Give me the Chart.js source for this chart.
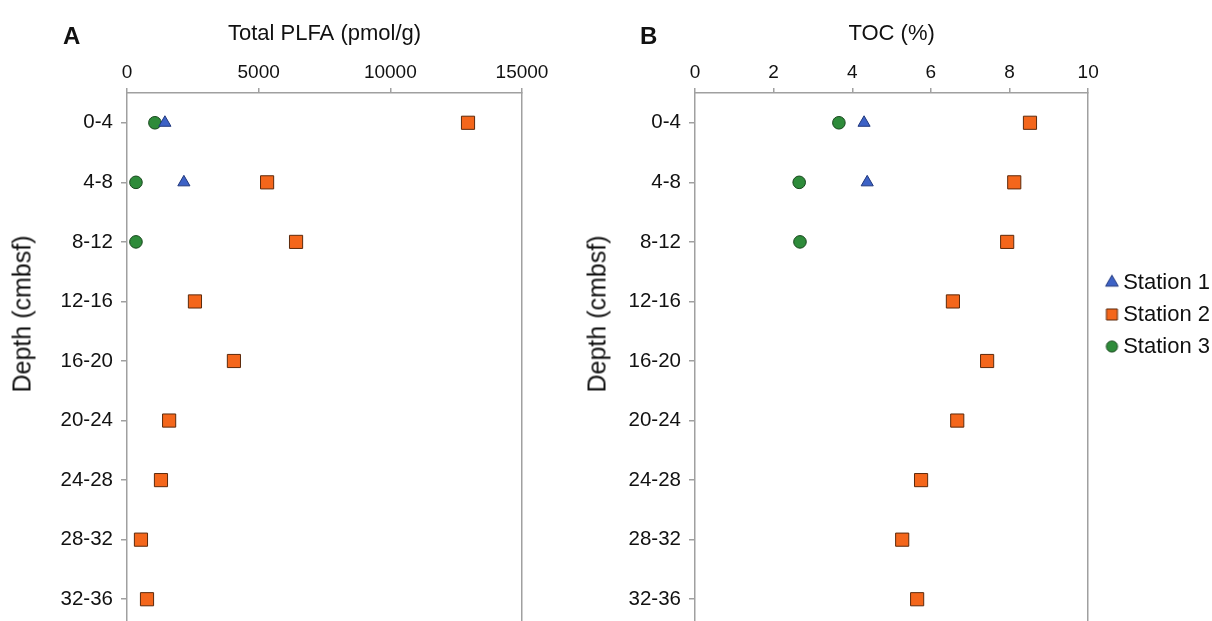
<!DOCTYPE html>
<html lang="en">
  <head>
    <meta charset="utf-8" />
    <title>PLFA and TOC by depth</title>
    <style>
      html, body { margin: 0; padding: 0; background: #fff; overflow: hidden; }
      body { width: 1212px; height: 621px; position: relative; font-family: "Liberation Sans", Arial, sans-serif; color: #111; }
      .panel { position: absolute; top: 0; }
      .letter { position: absolute; top: 24px; font-weight: bold; font-size: 24px; line-height: 24px; }
      .ytitle { position: absolute; font-size: 25px; white-space: nowrap; transform: translate(-50%, -50%) rotate(-90deg); }
    </style>
  </head>
  <body>
    <div class="panel" style="left: 0; width: 560px; height: 640px">
      <canvas id="plfa" width="560" height="640"></canvas>
    </div>
    <div class="panel" style="left: 560px; width: 652px; height: 640px">
      <canvas id="toc" width="652" height="640"></canvas>
    </div>
    <div class="letter" style="left: 63px">A</div>
    <div class="letter" style="left: 640px">B</div>
    <div class="ytitle" style="left: 22px; top: 314px">Depth (cmbsf)</div>
    <div class="ytitle" style="left: 597px; top: 314px">Depth (cmbsf)</div>

    <script src="https://cdn.jsdelivr.net/npm/chart.js"></script>

    <script>
      const depths = ["0-4", "4-8", "8-12", "12-16", "16-20", "20-24", "24-28", "28-32", "32-36"];

      // Total PLFA (pmol/g)
      const plfaStation1 = [1440, 2160, null, null, null, null, null, null, null];
      const plfaStation2 = [12950, 5320, 6420, 2580, 4060, 1600, 1290, 530, 760];
      const plfaStation3 = [1060, 340, 340, null, null, null, null, null, null];
      const plfaTicks = [0, 5000, 10000, 15000];

      // TOC (%)
      const tocStation1 = [4.3, 4.38, null, null, null, null, null, null, null];
      const tocStation2 = [8.52, 8.12, 7.94, 6.56, 7.43, 6.67, 5.75, 5.27, 5.65];
      const tocStation3 = [3.66, 2.65, 2.67, null, null, null, null, null, null];
      const tocTicks = [0, 2, 4, 6, 8, 10];

      const stationNames = ["Station 1", "Station 2", "Station 3"];

      const markers = [
        { pointStyle: "triangle", radius: 7, legendRadius: 7.3, fill: "#3d62c6", edge: "#22397e" },
        { pointStyle: "rect", radius: 9.3, legendRadius: 7.8, fill: "#f4661b", edge: "#5c2a0c" },
        { pointStyle: "circle", radius: 6.3, legendRadius: 5.6, fill: "#2e8b3a", edge: "#17461c" },
      ];

      const axisGray = "#a0a0a0";
      const textColor = "#111";
      Chart.defaults.font.family = '"Liberation Sans", Arial, sans-serif';

      function toPoints(values) {
        return values
          .map((v, i) => (v == null ? null : { x: v, y: i }))
          .filter((p) => p !== null);
      }

      // small legend glyphs, drawn with Chart.js' own point helper
      function legendIcon(m) {
        const size = Math.ceil(m.legendRadius * 2 + 3);
        const c = document.createElement("canvas");
        c.width = size;
        c.height = size;
        const g = c.getContext("2d");
        g.fillStyle = m.fill;
        g.strokeStyle = m.edge;
        g.lineWidth = 1;
        Chart.helpers.drawPoint(g, { pointStyle: m.pointStyle, radius: m.legendRadius, borderWidth: 1 }, size / 2, size / 2);
        return c;
      }
      const legendIcons = markers.map(legendIcon);

      function makeChart(id, xTitle, xTicks, series, opts) {
        const datasets = series.map((values, k) => ({
          label: stationNames[k],
          data: toPoints(values),
          pointStyle: markers[k].pointStyle,
          pointRadius: markers[k].radius,
          pointHoverRadius: markers[k].radius,
          backgroundColor: markers[k].fill,
          borderColor: markers[k].edge,
          borderWidth: 1,
          showLine: false,
        }));

        return new Chart(document.getElementById(id), {
          type: "scatter",
          data: { datasets: datasets },
          options: {
            responsive: false,
            animation: false,
            layout: { padding: { top: 0, left: 0, right: opts.padRight, bottom: 11 } },
            plugins: {
              tooltip: { enabled: false },
              legend: {
                display: opts.legend,
                position: "right",
                align: "center",
                labels: {
                  usePointStyle: true,
                  pointStyleWidth: 0.5,
                  boxHeight: 12,
                  padding: 10,
                  color: textColor,
                  font: { size: 22 },
                  generateLabels: (chart) =>
                    Chart.defaults.plugins.legend.labels
                      .generateLabels(chart)
                      .map((item, k) => Object.assign(item, { pointStyle: legendIcons[k] })),
                },
              },
            },
            scales: {
              x: {
                type: "linear",
                position: "top",
                min: xTicks[0],
                max: xTicks[xTicks.length - 1],
                afterBuildTicks: (s) => {
                  s.ticks = xTicks.map((v) => ({ value: v }));
                },
                afterFit: (s) => {
                  s.height = 93;
                },
                title: {
                  display: true,
                  text: xTitle,
                  color: textColor,
                  font: { size: 22 },
                  padding: { top: 21, bottom: 0 },
                },
                ticks: {
                  callback: (v) => String(v),
                  color: textColor,
                  font: { size: 19 },
                  padding: 4,
                  maxRotation: 0,
                },
                grid: { drawOnChartArea: false, tickLength: 5, color: axisGray, lineWidth: 1.5 },
                border: { color: axisGray, width: 1.5 },
              },
              y: {
                type: "linear",
                reverse: true,
                min: -0.5,
                max: depths.length - 0.5,
                afterBuildTicks: (s) => {
                  s.ticks = depths.map((d, i) => ({ value: i }));
                },
                afterFit: (s) => {
                  s.width = opts.yWidth;
                  s.paddingTop = 0;
                  s.paddingBottom = 0;
                },
                ticks: {
                  callback: (v) => depths[v],
                  color: textColor,
                  font: { size: 20.5 },
                  padding: 8,
                  autoSkip: false,
                },
                grid: { drawOnChartArea: false, tickLength: 6, color: axisGray, lineWidth: 1.5 },
                border: { color: axisGray, width: 1.5 },
              },
              edge: {
                type: "linear",
                position: "right",
                ticks: { display: false },
                grid: { drawOnChartArea: false, drawTicks: false },
                border: { color: axisGray, width: 1.5 },
                afterFit: (s) => {
                  s.width = opts.edgeWidth;
                },
              },
            },
          },
        });
      }

      makeChart("plfa", "Total PLFA (pmol/g)", plfaTicks, [plfaStation1, plfaStation2, plfaStation3], {
        yWidth: 127,
        edgeWidth: 1,
        padRight: 37,
        legend: false,
      });

      makeChart("toc", "TOC (%)", tocTicks, [tocStation1, tocStation2, tocStation3], {
        yWidth: 135,
        edgeWidth: 13.5,
        padRight: 2,
        legend: true,
      });
    </script>
  </body>
</html>
